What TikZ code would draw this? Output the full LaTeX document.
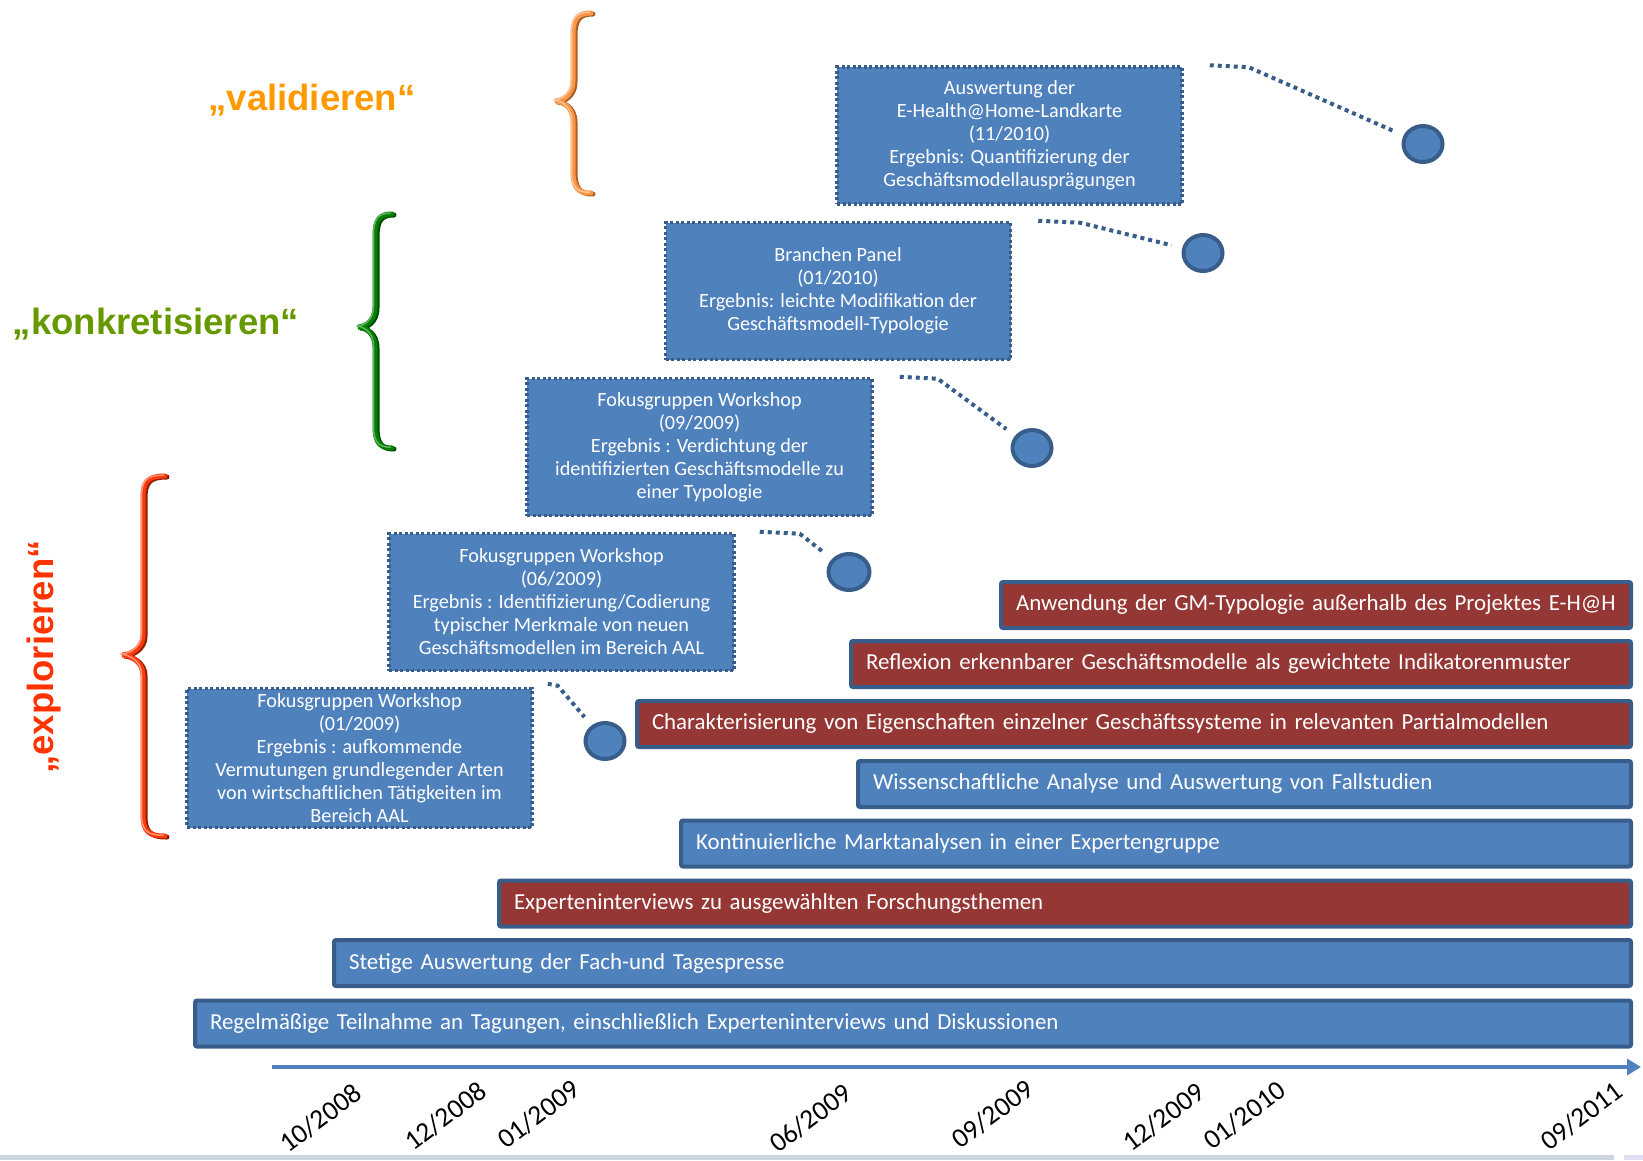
\documentclass[tikz,border=0pt]{standalone}
\usepackage{fontspec}
\setmainfont{Carlito}
\newfontfamily\headfont{Liberation Sans}
\usetikzlibrary{calc,arrows.meta,shapes.geometric}

\definecolor{boxblue}{RGB}{79,129,189}
\definecolor{edgeblue}{RGB}{56,93,138}
\definecolor{barred}{RGB}{149,55,53}
\definecolor{valcol}{RGB}{255,153,0}
\definecolor{konkcol}{RGB}{102,153,0}
\definecolor{explcol}{RGB}{255,51,0}
\definecolor{orangemain}{RGB}{247,150,70}
\definecolor{orangedark}{RGB}{170,95,35}
\definecolor{orangelight}{RGB}{252,195,150}
\definecolor{greenmain}{RGB}{0,128,0}
\definecolor{greendark}{RGB}{0,75,0}
\definecolor{greenlight}{RGB}{100,175,100}
\definecolor{redmain}{RGB}{255,55,10}
\definecolor{reddark}{RGB}{140,30,0}
\definecolor{redlight}{RGB}{255,150,120}
\definecolor{bandgray}{RGB}{205,213,224}
\definecolor{bandlav}{RGB}{222,222,242}

% curly brace opening to the right: left tip x, stem x, end x, top y, tip y, bottom y
\newcommand\bracepath[6]{(#3,#4) .. controls (#2+5,#4) and (#2,#4+5) .. (#2,#4+22)
  -- (#2,#5-20) .. controls (#2,#5-5) and (#1+6,#5) .. (#1,#5)
  .. controls (#1+6,#5) and (#2,#5+5) .. (#2,#5+20)
  -- (#2,#6-22) .. controls (#2,#6-5) and (#2+5,#6) .. (#3,#6)}

\begin{document}
\begin{tikzpicture}[x=1pt,y=-1pt,
  eventbox/.style={draw=edgeblue, fill=boxblue, line width=3.5pt,
    dash pattern=on 3pt off 2.5pt, minimum width=345, minimum height=137,
    align=center, text=white, inner sep=0,
    font=\fontsize{20.2}{23}\selectfont},
  bar/.style={draw=edgeblue, line width=4pt, rounded corners=2pt,
    minimum height=46, inner xsep=15, inner ysep=0, align=left,
    text=white, anchor=west, font=\fontsize{22.9}{26}\selectfont},
  bluebar/.style={bar, fill=boxblue},
  redbar/.style={bar, fill=barred},
  milestone/.style={ellipse, draw=edgeblue, fill=boxblue, line width=4pt,
    minimum width=39, minimum height=36, inner sep=0},
  conn/.style={draw=edgeblue, line width=4pt, dash pattern=on 4pt off 4pt,
    shorten >=11pt},
  phase/.style={inner sep=0, font=\headfont\bfseries\fontsize{36.5}{40}\selectfont},
  datelab/.style={rotate=37, anchor=base west, inner sep=0,
    font=\fontsize{27.5}{28}\selectfont},
  axis/.style={draw=boxblue, line width=4pt, -{Triangle[length=14pt,width=16pt]}},
  braceshadow/.style={line width=5pt, line cap=round, shift={(2,1)}},
  bracemain/.style={line width=5pt, line cap=round},
  bracehigh/.style={line width=1.5pt, line cap=round, shift={(-1.5,-0.8)}},
]
\useasboundingbox (0,0) rectangle (1643,1160);

% light band along the lower edge
\fill[bandgray] (0,1155) rectangle (1614,1160);
\fill[bandlav] (1624,1155) rectangle (1643,1160);

% phase labels
\node[phase, text=valcol] (validieren) at (312,100) {„validieren“};
\node[phase, text=konkcol] (konkretisieren) at (156,324) {„konkretisieren“};
\node[phase, text=explcol, rotate=90] (explorieren) at (44,657) {„explorieren“};

% braces
\draw[braceshadow, orangedark] \bracepath{555}{573}{591}{13}{101}{193};
\draw[bracemain, orangemain] \bracepath{555}{573}{591}{13}{101}{193};
\draw[bracehigh, orangelight] \bracepath{555}{573}{591}{13}{101}{193};

\draw[braceshadow, greendark] \bracepath{358}{375}{392}{214}{327}{448};
\draw[bracemain, greenmain] \bracepath{358}{375}{392}{214}{327}{448};
\draw[bracehigh, greenlight] \bracepath{358}{375}{392}{214}{327}{448};

\draw[braceshadow, reddark] \bracepath{122}{143}{165}{476}{655}{836};
\draw[bracemain, redmain] \bracepath{122}{143}{165}{476}{655}{836};
\draw[bracehigh, redlight] \bracepath{122}{143}{165}{476}{655}{836};

% event boxes
\node[eventbox] (b1) at (1009.5,135.5) {Auswertung der\\E-Health@Home-Landkarte\\(11/2010)\\Ergebnis: Quantifizierung der\\Geschäftsmodellausprägungen};
\node[eventbox] (b2) at (838,291) {Branchen Panel\\(01/2010)\\Ergebnis: leichte Modifikation der\\Geschäftsmodell-Typologie};
\node[eventbox] (b3) at (699.5,447) {Fokusgruppen Workshop\\(09/2009)\\Ergebnis : Verdichtung der\\identifizierten Geschäftsmodelle zu\\einer Typologie};
\node[eventbox] (b4) at (561.5,602) {Fokusgruppen Workshop\\(06/2009)\\Ergebnis : Identifizierung/Codierung\\typischer Merkmale von neuen\\Geschäftsmodellen im Bereich AAL};
\node[eventbox, minimum height=139] (b5) at (359.5,758) {Fokusgruppen Workshop\\(01/2009)\\Ergebnis : aufkommende\\Vermutungen grundlegender Arten\\von wirtschaftlichen Tätigkeiten im\\Bereich AAL};

% milestones
\node[milestone] (c1) at (1423,144) {};
\node[milestone] (c2) at (1203,253) {};
\node[milestone] (c3) at (1032,448) {};
\node[milestone, minimum width=41] (c4) at (849,572) {};
\node[milestone] (c5) at (605,741) {};

% dotted leaders from boxes to milestones
\draw[conn] ($(b1.north east)+(26,0)$) -- ++(39,2) -- (c1);
\draw[conn] ($(b2.north east)+(26,0)$) -- ++(42,2) -- (c2);
\draw[conn] ($(b3.north east)+(26,0)$) -- ++(38,2) -- (c3);
\draw[conn] ($(b4.north east)+(24,0)$) -- ++(40,2) -- (c4);
\draw[conn] ($(b5.north east)+(14,-3)$) -- ++(10,2) -- (c5);

% activity bars
\node[redbar, text width=600] (r1) at (999,605) {Anwendung der GM-Typologie außerhalb des Projektes E-H@H};
\node[redbar, text width=750] (r2) at (849,664) {Reflexion erkennbarer Geschäftsmodelle als gewichtete Indikatorenmuster};
\node[redbar, text width=964] (r3) at (635,724) {Charakterisierung von Eigenschaften einzelner Geschäftssysteme in relevanten Partialmodellen};
\node[bluebar, text width=743] (r4) at (856,784) {Wissenschaftliche Analyse und Auswertung von Fallstudien};
\node[bluebar, text width=920] (r5) at (679,843.5) {Kontinuierliche Marktanalysen in einer Expertengruppe};
\node[redbar, text width=1102] (r6) at (497,903.5) {Experteninterviews zu ausgewählten Forschungsthemen};
\node[bluebar, text width=1267] (r7) at (332,963) {Stetige Auswertung der Fach-und Tagespresse};
\node[bluebar, text width=1406] (r8) at (193,1023.5) {Regelmäßige Teilnahme an Tagungen, einschließlich Experteninterviews und Diskussionen};

% time axis
\coordinate (axisstart) at (272,1067);
\coordinate (axisend) at (1641,1067);
\draw[axis] (axisstart) -- (axisend);

% dates
\node[datelab] (d1) at (288,1154) {10/2008};
\node[datelab] (d2) at (413,1152) {12/2008};
\node[datelab] (d3) at (506,1150) {01/2009};
\node[datelab] (d4) at (778,1154) {06/2009};
\node[datelab] (d5) at (960,1150) {09/2009};
\node[datelab] (d6) at (1131,1153) {12/2009};
\node[datelab] (d7) at (1212,1151) {01/2010};
\node[datelab] (d8) at (1549,1152) {09/2011};
\end{tikzpicture}
\end{document}
